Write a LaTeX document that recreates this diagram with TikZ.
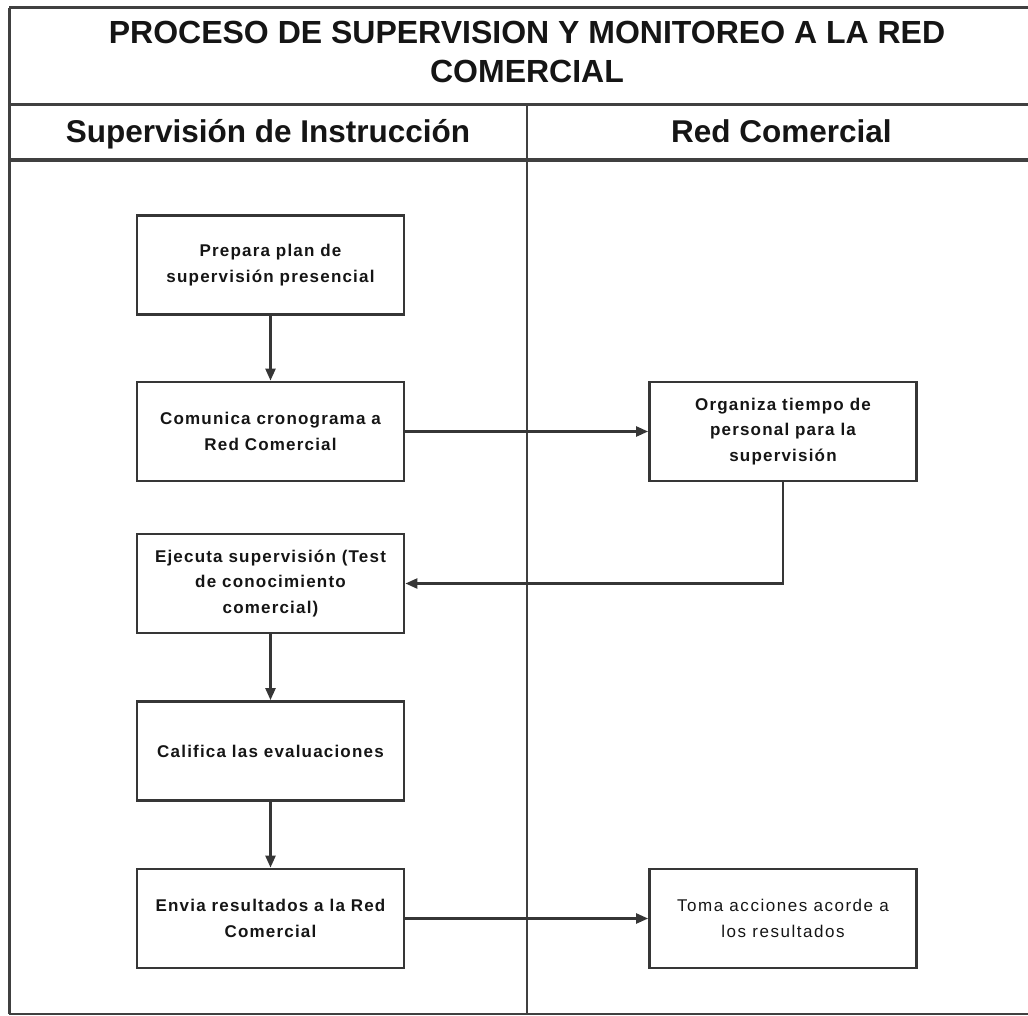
\documentclass[tikz,border=0pt]{standalone}
\usepackage{fontspec}
\setmainfont{Liberation Sans}
\newfontfamily\cajafont[LetterSpace=7]{Liberation Sans}
\newfontfamily\cajafontfina[LetterSpace=9]{Liberation Sans}
\usepackage{tikz}
\usetikzlibrary{arrows.meta}
\tikzset{>={Triangle[width=10pt,length=12pt]}}
\usepackage{xcolor}
\definecolor{linea}{HTML}{363636}
\definecolor{marco}{HTML}{404040}
\definecolor{texto}{HTML}{151515}
\tikzset{caja/.style={draw=linea, line width=2.8pt, minimum width=267pt, minimum height=99pt, inner sep=0pt, align=center, text=texto, font=\cajafont\fontsize{17}{25.5}\selectfont\bfseries}}
\tikzset{flecha/.style={->, draw=linea, line width=2.4pt}}

\begin{document}
\begin{tikzpicture}[x=1pt, y=-1pt]
		\useasboundingbox (0,0) rectangle (1028,1016);
		\begin{scope}
			%marco de la tabla
			\draw [draw=marco, line width=3pt] (9,8) -- (1060,8);
			\draw [draw=marco, line width=3pt] (9,105) -- (1060,105);
			\draw [draw=marco, line width=3.4pt] (9,160) -- (1060,160);
			\draw [draw=marco, line width=1.5pt] (9,1014) -- (1060,1014);
			\draw [draw=marco, line width=3pt] (9,8) -- (9,1014);
			%division de carriles
			\draw [draw=marco, line width=2.6pt] (527,105) -- (527,1014);
			%titulo
			\node [align=center, inner sep=0pt, text=texto, font=\fontsize{32}{39}\selectfont\bfseries] (titulo) at (527,52) {PROCESO DE SUPERVISION Y MONITOREO A LA RED\\COMERCIAL};
			%encabezados de carril
			\node [anchor=base, inner sep=0pt, text=texto, font=\fontsize{31.5}{34}\selectfont\bfseries] (carrilSup) at (268,143) {Supervisión de Instrucción};
			\node [anchor=base, inner sep=0pt, text=texto, font=\fontsize{31.5}{34}\selectfont\bfseries] (carrilRed) at (781.5,143) {Red Comercial};
		\end{scope}
		\begin{scope}
			%cajas de supervision de instruccion
			\node [caja] (prepara) at (270.5,265) {Prepara plan de\\supervisión presencial};
			\node [caja] (comunica) at (270.5,431.5) {Comunica cronograma a\\Red Comercial};
			\node [caja] (ejecuta) at (270.5,583.5) {Ejecuta supervisión (Test\\de conocimiento\\comercial)};
			\node [caja] (califica) at (270.5,751) {Califica las evaluaciones};
			\node [caja] (envia) at (270.5,918.5) {Envia resultados a la Red\\Comercial};
			%cajas de red comercial
			\node [caja] (organiza) at (783,431.5) {Organiza tiempo de\\personal para la\\supervisión};
			\node [caja, font=\cajafontfina\fontsize{17}{25.5}\selectfont] (toma) at (783,918.5) {Toma acciones acorde a\\los resultados};
			%flechas
			\draw [flecha] (prepara) -- (comunica);
			\draw [flecha] (comunica) -- (organiza);
			\draw [flecha] (organiza.south) |- (ejecuta.east);
			\draw [flecha] (ejecuta) -- (califica);
			\draw [flecha] (califica) -- (envia);
			\draw [flecha] (envia) -- (toma);
		\end{scope}
	\end{tikzpicture}
\end{document}
